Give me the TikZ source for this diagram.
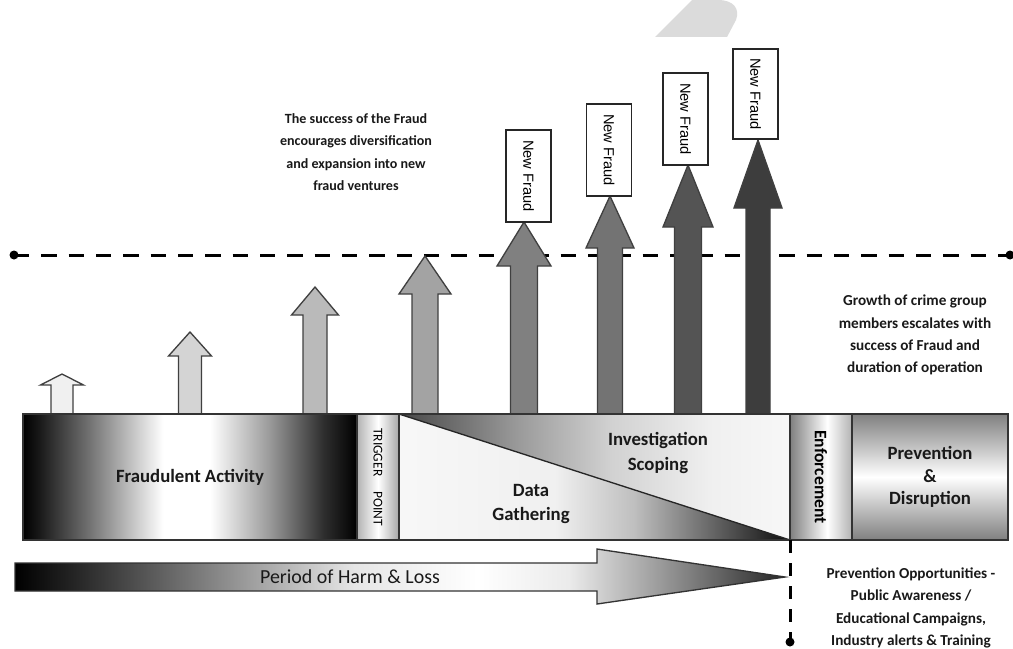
\documentclass[tikz,border=0pt]{standalone}
\usepackage{fontspec}
\setmainfont{Carlito}
\newfontfamily\nffont{Liberation Sans}
\usepackage{graphicx}

% shadings: the part from 25bp to 75bp spans the filled shape
\pgfdeclarehorizontalshading{fraudshade}{100bp}{color(0bp)=(black); color(25bp)=(black); color(27.5bp)=(black!90); color(35bp)=(black!55); color(46bp)=(white); color(53bp)=(white); color(62bp)=(black!40); color(70bp)=(black!82); color(75bp)=(black); color(100bp)=(black)}
\pgfdeclarehorizontalshading{triggershade}{100bp}{color(0bp)=(black!30); color(25bp)=(black!30); color(50bp)=(white); color(75bp)=(black!35); color(100bp)=(black!35)}
\pgfdeclarehorizontalshading{scopeshade}{100bp}{color(0bp)=(black!72); color(25bp)=(black!72); color(40bp)=(black!40); color(52bp)=(black!18); color(65bp)=(black!6); color(75bp)=(black!3); color(100bp)=(black!3)}
\pgfdeclarehorizontalshading{gathershade}{100bp}{color(0bp)=(black!3); color(25bp)=(black!3); color(45bp)=(black!6); color(55bp)=(black!25); color(65bp)=(black!60); color(75bp)=(black!95); color(100bp)=(black!95)}
\pgfdeclarehorizontalshading{enforceshade}{100bp}{color(0bp)=(black!50); color(25bp)=(black!50); color(55bp)=(white); color(75bp)=(black!30); color(100bp)=(black!30)}
\pgfdeclareverticalshading{preventshade}{100bp}{color(0bp)=(black!50); color(25bp)=(black!50); color(50bp)=(white); color(75bp)=(black!50); color(100bp)=(black!50)}
\pgfdeclarehorizontalshading{periodshade}{100bp}{color(0bp)=(black); color(25bp)=(black); color(29bp)=(black!85); color(35bp)=(black!60); color(47bp)=(black!10); color(55bp)=(white); color(61bp)=(black!8); color(67bp)=(black!40); color(75bp)=(black!85); color(100bp)=(black!85)}

% an upward growth arrow: centre x, head base y, tip y, shaft half width, head half width, fill
\newcommand\growarrow[6]{%
  \draw[growstyle, fill=#6] (#1-#4,416) -- (#1-#4,#2) -- (#1-#5,#2) -- (#1,#3)
    -- (#1+#5,#2) -- (#1+#4,#2) -- (#1+#4,416);}

\begin{document}
\begin{tikzpicture}[x=0.3mm, y=-0.3mm,
  stagebox/.style={draw=black!80, line width=0.5mm, inner sep=0pt, minimum height=37.8mm},
  growstyle/.style={draw=black!75, line width=0.4mm, line join=miter},
  nfbox/.style={draw=black!85, fill=white, line width=0.4mm, inner sep=0pt,
    minimum width=13.5mm, minimum height=27.6mm, font=\nffont\fontsize{12.5}{14}\selectfont},
  biglabel/.style={align=center, text=black!90, font=\bfseries\fontsize{16}{21}\selectfont},
  note/.style={align=center, text=black!90, font=\bfseries\fontsize{12}{19}\selectfont},
  dashline/.style={line width=0.9mm, dash pattern=on 4.6mm off 3.6mm},
]
\useasboundingbox (0,0) rectangle (1013,648);

% faded mark at the top
\fill[black!14] (655,37) -- (692,0) -- (718,0) .. controls (734,0) and (740,9) .. (736,20) -- (727,37) -- cycle;

% threshold line
\coordinate (thl) at (14,255);
\coordinate (thr) at (1010,255);
\draw[dashline] (thl) -- (thr);
\fill (thl) circle (4.5);
\fill (thr) circle (4.5);

% growth arrows
\growarrow{62}{385}{374}{11}{21.5}{black!6}
\growarrow{190}{356}{332}{11.5}{21.5}{black!17}
\growarrow{315}{315}{287}{12}{23.5}{black!27}
\growarrow{425}{294}{256}{13}{26}{black!36}
\growarrow{524}{266}{222}{13.5}{27}{black!50}
\growarrow{610}{248}{196}{12.5}{24}{black!55}
\growarrow{688}{227}{165}{13.5}{25}{black!67}
\growarrow{758}{208}{140}{12}{24}{black!76}

% new fraud boxes
\node[nfbox] (nf1) at (528.5,176) {\rotatebox{-90}{New Fraud}};
\node[nfbox] (nf2) at (609,150) {\rotatebox{-90}{New Fraud}};
\node[nfbox] (nf3) at (685.5,119) {\rotatebox{-90}{New Fraud}};
\node[nfbox, minimum height=27mm] (nf4) at (755.5,94) {\rotatebox{-90}{New Fraud}};

% stage boxes
\node[stagebox, shading=fraudshade, minimum width=100.2mm] (fraud) at (190,477) {};
\node[biglabel] (fraudtxt) at (fraud) {Fraudulent Activity};

\node[stagebox, shading=triggershade, minimum width=12.6mm] (trig) at (378,477)
  {\rotatebox{-90}{\fontsize{11.5}{13}\selectfont TRIGGER\hspace{4.5mm}POINT}};

\coordinate (itl) at (399,414);
\coordinate (itr) at (790,414);
\coordinate (ibl) at (399,540);
\coordinate (ibr) at (790,540);
\shade[shading=scopeshade] (itl) -- (itr) -- (ibr) -- cycle;
\shade[shading=gathershade] (itl) -- (ibl) -- (ibr) -- cycle;
\draw[black!85, line width=0.4mm] (itl) -- (ibr);
\node[stagebox, minimum width=117.3mm] (invest) at (594.5,477) {};
\node[biglabel] (scoping) at (658,453) {Investigation\\Scoping};
\node[biglabel] (gather) at (531,504) {Data\\Gathering};

\node[stagebox, shading=enforceshade, minimum width=18.6mm] (enf) at (821,477)
  {\rotatebox{-90}{\bfseries\fontsize{15}{17}\selectfont Enforcement}};

\node[stagebox, shading=preventshade, minimum width=46.8mm] (prev) at (930,477) {};
\node[biglabel, font=\bfseries\fontsize{16}{19.5}\selectfont] (prevtxt) at (prev) {Prevention\\\&\\Disruption};

% period of harm arrow
\draw[black!80, line width=0.4mm, shading=periodshade]
  (15,563) -- (597,563) -- (597,549) -- (785,577) -- (597,604) -- (597,591) -- (15,591) -- cycle;
\node[text=black!90, font=\fontsize{17}{20}\selectfont] (period) at (350,577) {Period of Harm \& Loss};

% enforcement marker line
\coordinate (vt) at (790,540);
\coordinate (vb) at (790,642);
\draw[line width=0.9mm, dash pattern=on 3.9mm off 3mm] (vt) -- (vb);
\fill (vb) circle (4.5);

% notes
\node[note] (success) at (356,152) {The success of the Fraud\\encourages diversification\\and expansion into new\\fraud ventures};
\node[note, font=\bfseries\fontsize{13}{19}\selectfont] (growth) at (915,335) {Growth of crime group\\members escalates with\\success of Fraud and\\duration of operation};
\node[note, font=\bfseries\fontsize{13}{19}\selectfont] (opps) at (911,608) {Prevention Opportunities -\\Public Awareness /\\Educational Campaigns,\\Industry alerts \& Training};
\end{tikzpicture}
\end{document}
